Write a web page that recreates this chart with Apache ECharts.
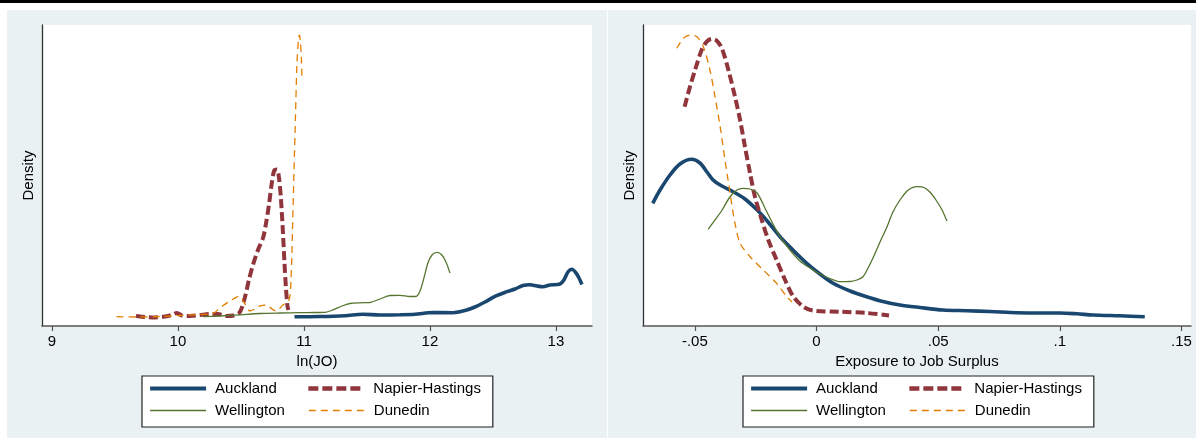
<!DOCTYPE html>
<html><head><meta charset="utf-8">
<script src="https://cdn.jsdelivr.net/npm/echarts@6/dist/echarts.min.js"></script>
<style>
html,body{margin:0;padding:0;background:#fff;}
#wrap{position:relative;width:1196px;height:439px;overflow:hidden;background:#fff;}
.bar{position:absolute;left:0;top:0;width:1196px;height:3px;background:#000;}
.panel{position:absolute;top:10px;height:428px;background:#e9f1f3;}
#chart{position:absolute;left:0;top:0;width:1196px;height:439px;}
</style></head><body>
<div id="wrap"><div class="bar"></div><div class="panel" style="left:7px;width:600px"></div><div class="panel" style="left:608px;width:588px"></div><div id="chart"></div></div>
<script>
const seriesNames = ['Auckland', 'Napier-Hastings', 'Wellington', 'Dunedin'];
const lnjoTicks = [9, 10, 11, 12, 13];
const exposureTicks = [-0.05, 0, 0.05, 0.1, 0.15];

// Left panel: density of ln(JO)
const lnAucklandX = [10.925,11.127,11.325,11.468,11.603,11.762,11.881,12.024,12.183,12.278,12.357,12.437,12.516,12.611,12.675,12.738,12.794,12.849,12.897,12.952,13.032,13.063,13.095,13.127,13.159,13.183,13.206];
const lnAucklandY = [0.043,0.05,0.077,0.123,0.1,0.107,0.123,0.183,0.177,0.25,0.367,0.533,0.723,0.877,0.967,1.083,1.11,1.067,1.043,1.1,1.133,1.267,1.533,1.623,1.5,1.333,1.117];
const lnNapierX = [9.667,9.738,9.817,9.897,9.952,9.992,10.032,10.095,10.175,10.254,10.317,10.381,10.444,10.492,10.532,10.563,10.595,10.635,10.675,10.698,10.722,10.746,10.766,10.786,10.802,10.817,10.833,10.845,10.857,10.869,10.877];
const lnNapierY = [0.067,0.033,0.017,0.05,0.1,0.167,0.083,0.067,0.1,0.133,0.133,0.067,0.083,0.2,0.7,1.267,1.767,2.267,2.667,3.133,3.767,4.533,4.933,4.95,4.667,4.0,2.867,1.867,1.0,0.4,0.267];
const lnWellingtonX = [10.198,10.333,10.492,10.651,10.810,10.968,11.087,11.167,11.230,11.302,11.365,11.444,11.524,11.603,11.683,11.762,11.841,11.889,11.921,11.952,11.984,12.016,12.056,12.095,12.127,12.159];
const lnWellingtonY = [0.043,0.067,0.107,0.15,0.167,0.177,0.183,0.19,0.267,0.4,0.483,0.507,0.517,0.633,0.75,0.757,0.717,0.717,0.9,1.333,1.833,2.1,2.19,2.1,1.867,1.5];
const lnDunedinX = [9.513,9.698,9.857,10.016,10.175,10.278,10.333,10.413,10.484,10.532,10.571,10.611,10.651,10.706,10.746,10.778,10.833,10.881,10.897,10.909,10.921,10.933,10.944,10.956,10.964,10.972,10.980,10.984];
const lnDunedinY = [0.043,0.033,0.05,0.083,0.117,0.15,0.333,0.567,0.717,0.467,0.233,0.3,0.4,0.433,0.3,0.233,0.433,0.6,1.267,2.933,4.933,6.767,8.433,9.267,9.433,9.2,8.6,8.0];

// Right panel: density of exposure to job surplus
const exAucklandX = [-0.0673,-0.0643,-0.0602,-0.0561,-0.0513,-0.0479,-0.0450,-0.0425,-0.0396,-0.0343,-0.0294,-0.0244,-0.0199,-0.0150,-0.0097,-0.0040,0.0014,0.0068,0.0138,0.0206,0.0273,0.0343,0.0425,0.0520,0.0618,0.0713,0.0824,0.0918,0.1000,0.1070,0.1136,0.1247,0.1349];
const exAucklandY = [9.558,10.667,11.917,12.833,13.225,12.917,12.167,11.5,11.083,10.525,9.917,9.0,8.0,6.775,5.667,4.558,3.667,2.892,2.25,1.775,1.375,1.083,0.875,0.667,0.608,0.542,0.442,0.417,0.417,0.35,0.25,0.183,0.108];
const exNapierX = [-0.0542,-0.0520,-0.0499,-0.0472,-0.0451,-0.0431,-0.0410,-0.0389,-0.0362,-0.0335,-0.0314,-0.0294,-0.0273,-0.0253,-0.0225,-0.0198,-0.0164,-0.0129,-0.0095,-0.0054,-0.0013,0.0097,0.0206,0.0298];
const exNapierY = [17.608,19.275,20.667,22.333,23.025,23.25,23.108,22.475,20.667,18.442,16.5,14.275,12.058,10.108,8.167,6.5,4.833,3.167,1.775,0.942,0.608,0.525,0.417,0.208];
const exWellingtonX = [-0.0445,-0.0417,-0.0388,-0.0356,-0.0327,-0.0302,-0.0273,-0.0244,-0.0212,-0.0183,-0.0150,-0.0109,-0.0068,-0.0027,0.0014,0.0055,0.0097,0.0138,0.0166,0.0191,0.0212,0.0232,0.0261,0.0290,0.0314,0.0343,0.0372,0.0396,0.0417,0.0442,0.0466,0.0491,0.0516,0.0536];
const exWellingtonY = [7.392,8.167,9.0,10.083,10.667,10.808,10.75,10.417,9.167,8.0,6.775,5.667,4.75,4.167,3.667,3.292,3.025,3.042,3.167,3.442,4.167,5.0,6.333,7.608,8.833,9.833,10.583,10.892,10.942,10.875,10.5,9.833,9.0,8.083];
const exDunedinX = [-0.0574,-0.0547,-0.0520,-0.0492,-0.0465,-0.0438,-0.0417,-0.0396,-0.0376,-0.0355,-0.0335,-0.0314,-0.0273,-0.0219,-0.0164,-0.0122,-0.0101];
const exDunedinY = [22.475,23.308,23.583,23.442,22.608,20.667,18.442,15.942,13.167,10.392,7.892,6.225,5.108,4.0,2.892,1.775,1.333];

const FONT = "'Liberation Sans', Arial, sans-serif";
const zip = (xs, ys) => xs.map((x, i) => [x, ys[i]]);
const styles = {
  'Auckland': { color: '#1a476f', width: 3.6, type: 'solid', lw: 4.2, lt: 'solid' },
  'Napier-Hastings': { color: '#90353b', width: 4, type: [9, 4], lw: 4.5, lt: [10, 4] },
  'Wellington': { color: '#55752f', width: 1.3, type: 'solid', lw: 1.3, lt: 'solid' },
  'Dunedin': { color: '#e37e00', width: 1.3, type: [7, 5], lw: 1.4, lt: [7, 5] }
};
function mk(name, idx, xs, ys) {
  const s = styles[name];
  return {
    type: 'line', name: name, xAxisIndex: idx, yAxisIndex: idx,
    data: zip(xs, ys), showSymbol: false, symbol: 'none', smooth: 0.3,
    color: s.color,
    lineStyle: { color: s.color, width: s.width, type: s.type },
    emphasis: { disabled: true }, animation: false
  };
}
const fmtEx = v => {
  if (Math.abs(v) < 1e-9) return '0';
  const a = String(+Math.abs(v).toFixed(4)).replace(/^0/, '');
  return (v < 0 ? '-' : '') + a;
};
function xAxisCfg(idx, name, min, max, ticks, fmt) {
  return {
    type: 'value', gridIndex: idx, min: min, max: max,
    name: name, nameLocation: 'middle', nameGap: 21,
    nameTextStyle: { fontFamily: FONT, fontSize: 15, color: '#000' },
    axisLine: { show: true, onZero: false, lineStyle: { color: '#555', width: 1.5 } },
    axisTick: { show: true, length: 5, customValues: ticks, lineStyle: { color: '#555', width: 1.2 } },
    axisLabel: { show: true, customValues: ticks, margin: 8, fontFamily: FONT, fontSize: 15, color: '#000', formatter: fmt },
    splitLine: { show: false }
  };
}
function yAxisCfg(idx, min, max) {
  return {
    type: 'value', gridIndex: idx, min: min, max: max,
    name: 'Density', nameLocation: 'middle', nameGap: 6,
    nameTextStyle: { fontFamily: FONT, fontSize: 15, color: '#000' },
    axisLine: { show: true, onZero: false, lineStyle: { color: '#333', width: 1.3 } },
    axisTick: { show: false }, axisLabel: { show: false }, splitLine: { show: false }
  };
}
function legItem(name, w) {
  const s = styles[name];
  return { name: name, lineStyle: { width: s.lw, type: s.lt, color: s.color }, textStyle: { width: w, padding: [0, 0, 0, 4] } };
}
function legendCfg(left) {
  return {
    left: left, top: 376, width: 346, orient: 'horizontal',
    itemWidth: 56, itemHeight: 12, itemGap: 7,
    padding: [5, 9, 9, 6],
    backgroundColor: '#fff', borderColor: '#222', borderWidth: 1.2, borderRadius: 0,
    itemStyle: { opacity: 0 },
    textStyle: { fontFamily: FONT, fontSize: 15, color: '#000', lineHeight: 12 },
    data: [legItem('Auckland', 84), legItem('Napier-Hastings', 110), legItem('Wellington', 86), legItem('Dunedin', 110)]
  };
}

const chart = echarts.init(document.getElementById('chart'), null, { renderer: 'canvas' });
chart.setOption({
  animation: false,
  backgroundColor: 'transparent',
  grid: [
    { left: 42, top: 25, width: 550, height: 301, show: true, backgroundColor: '#fff', borderWidth: 0, containLabel: false, outerBoundsMode: 'none' },
    { left: 643, top: 25, width: 548, height: 301, show: true, backgroundColor: '#fff', borderWidth: 0, containLabel: false, outerBoundsMode: 'none' }
  ],
  xAxis: [
    xAxisCfg(0, 'ln(JO)', 8.921, 13.286, lnjoTicks, v => String(v)),
    xAxisCfg(1, 'Exposure to Job Surplus', -0.0713, 0.1539, exposureTicks, fmtEx)
  ],
  yAxis: [yAxisCfg(0, -0.267, 9.767), yAxisCfg(1, -0.667, 24.417)],
  legend: [legendCfg(142), legendCfg(743)],
  tooltip: { show: false },
  series: [
    mk('Auckland', 0, lnAucklandX, lnAucklandY),
    mk('Napier-Hastings', 0, lnNapierX, lnNapierY),
    mk('Wellington', 0, lnWellingtonX, lnWellingtonY),
    mk('Dunedin', 0, lnDunedinX, lnDunedinY),
    mk('Auckland', 1, exAucklandX, exAucklandY),
    mk('Napier-Hastings', 1, exNapierX, exNapierY),
    mk('Wellington', 1, exWellingtonX, exWellingtonY),
    mk('Dunedin', 1, exDunedinX, exDunedinY)
  ]
});
</script>
</body></html>
